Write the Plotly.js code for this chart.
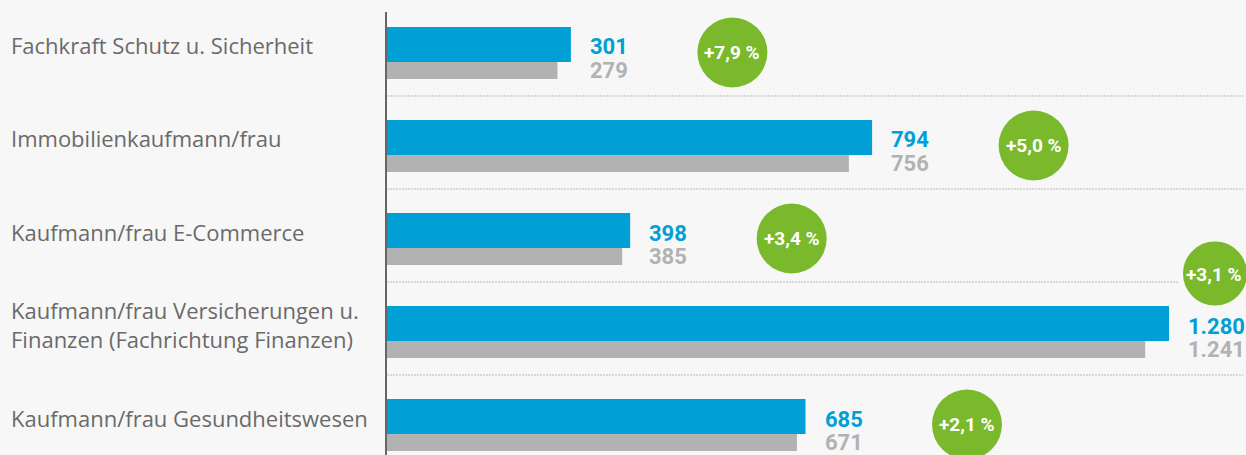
<!DOCTYPE html>
<html>
<head>
<meta charset="utf-8">
<script src="https://cdn.plot.ly/plotly-3.0.1.min.js"></script>
<style>
  html, body { margin: 0; padding: 0; background: #f7f7f7; }
  #plot { width: 1246px; height: 455px; }
</style>
</head>
<body>
<div id="plot"></div>
<script>
// Ausbildungsberufe: aktuelle Zahl vs. Vorjahr
const categories = [
    "Fachkraft Schutz u. Sicherheit",
    "Immobilienkaufmann/frau",
    "Kaufmann/frau E-Commerce",
    "Kaufmann/frau Versicherungen u. Finanzen (Fachrichtung Finanzen)",
    "Kaufmann/frau Gesundheitswesen"
];
const labelText = [
    "Fachkraft Schutz u. Sicherheit",
    "Immobilienkaufmann/frau",
    "Kaufmann/frau E-Commerce",
    "Kaufmann/frau Versicherungen u.<br>Finanzen (Fachrichtung Finanzen)",
    "Kaufmann/frau Gesundheitswesen"
];
const current = [301, 794, 398, 1280, 685];
const previous = [279, 756, 385, 1241, 671];
const change = [7.9, 5.0, 3.4, 3.1, 2.1];

const BLUE = "#009fd6";
const GREY = "#b2b2b2";
const GREEN = "#7ab92c";
const BG = "#f7f7f7";

const W = 1246, H = 455;
const margin = { l: 387, r: 0, t: 12, b: 0 };
const xMax = 1406;
const plotW = W - margin.l - margin.r;
const pxPerUnit = plotW / xMax;

const fmtNum = (n) => String(n).replace(/\B(?=(\d{3})+(?!\d))/g, ".");
const fmtPct = (v) => "+" + v.toFixed(1).replace(".", ",") + " %";

let data = [
    {
        type: "bar",
        orientation: "h",
        x: current,
        y: categories,
        offset: -0.242,
        width: 0.376,
        marker: { color: BLUE },
        hoverinfo: "none",
        name: "aktuell"
    },
    {
        type: "bar",
        orientation: "h",
        x: previous,
        y: categories,
        offset: 0.134,
        width: 0.183,
        marker: { color: GREY },
        hoverinfo: "none",
        name: "Vorjahr"
    }
];

let annotations = [];
let shapes = [];

// dotted separators between categories
for (let i = 0; i < categories.length - 1; i++) {
    shapes.push({
        type: "line", xref: "paper", yref: "y",
        x0: 0, x1: 0.997, y0: i + 0.5, y1: i + 0.5,
        line: { color: "#b9b9b9", width: 1, dash: "2px,1px" },
        layer: "below"
    });
}

const badgeFont = { family: "Roboto, sans-serif", size: 19, color: "#ffffff" };

categories.forEach((c, i) => {
    // label on the left
    annotations.push({
        xref: "paper", yref: "y", x: -(margin.l - 9) / plotW, y: i,
        xanchor: "left", yanchor: "middle", align: "left",
        yshift: 4, showarrow: false,
        text: labelText[i],
        font: { family: "'Open Sans', sans-serif", size: 22, color: "#6a6a6a" }
    });
    // values
    annotations.push({
        xref: "x", yref: "y", x: current[i], y: i,
        xanchor: "left", yanchor: "middle", xshift: 17, yshift: 2.5,
        showarrow: false, text: "<b>" + fmtNum(current[i]) + "</b>",
        font: { family: "Roboto, sans-serif", size: 22, color: BLUE }
    });
    annotations.push({
        xref: "x", yref: "y", x: current[i], y: i,
        xanchor: "left", yanchor: "middle", xshift: 17, yshift: -21,
        showarrow: false, text: "<b>" + fmtNum(previous[i]) + "</b>",
        font: { family: "Roboto, sans-serif", size: 22, color: GREY }
    });

    // percent badge
    const r = 35;
    const fits = current[i] * pxPerUnit + 161.5 + r <= plotW;
    if (fits) {
        shapes.push({
            type: "circle", xref: "x", yref: "y",
            xsizemode: "pixel", ysizemode: "pixel",
            xanchor: current[i], yanchor: i,
            x0: 161.5 - r, x1: 161.5 + r, y0: -3 - r, y1: -3 + r,
            fillcolor: GREEN, line: { color: BG, width: 0 }, layer: "above"
        });
        annotations.push({
            xref: "x", yref: "y", x: current[i], y: i,
            xanchor: "center", yanchor: "middle", xshift: 161.5, yshift: -3,
            showarrow: false, text: "<b>" + fmtPct(change[i]) + "</b>",
            font: badgeFont
        });
    } else {
        // no room to the right: badge sits at the right edge above the value
        shapes.push({
            type: "circle", xref: "paper", yref: "y",
            xsizemode: "pixel", ysizemode: "pixel",
            xanchor: 1, yanchor: i,
            x0: -31 - r, x1: -31 + r, y0: 55 - r, y1: 55 + r,
            fillcolor: GREEN, line: { color: BG, width: 6 }, layer: "above"
        });
        annotations.push({
            xref: "paper", yref: "y", x: 1, y: i,
            xanchor: "center", yanchor: "middle", xshift: -32, yshift: 54.5,
            showarrow: false, text: "<b>" + fmtPct(change[i]) + "</b>",
            font: badgeFont
        });
    }
});

let layout = {
    width: W,
    height: H,
    margin: margin,
    paper_bgcolor: BG,
    plot_bgcolor: BG,
    barmode: "overlay",
    showlegend: false,
    xaxis: {
        range: [0, xMax],
        showgrid: false, zeroline: false, showticklabels: false, ticks: ""
    },
    yaxis: {
        type: "category",
        range: [4.36, -0.403],
        showgrid: false, zeroline: false, showticklabels: false, ticks: "",
        showline: true, linecolor: "#666666", linewidth: 2
    },
    shapes: shapes,
    annotations: annotations
};

let config = { staticPlot: true, responsive: false };

window.addEventListener("load", () => {
    Plotly.newPlot("plot", data, layout, config);
});
</script>
</body>
</html>
